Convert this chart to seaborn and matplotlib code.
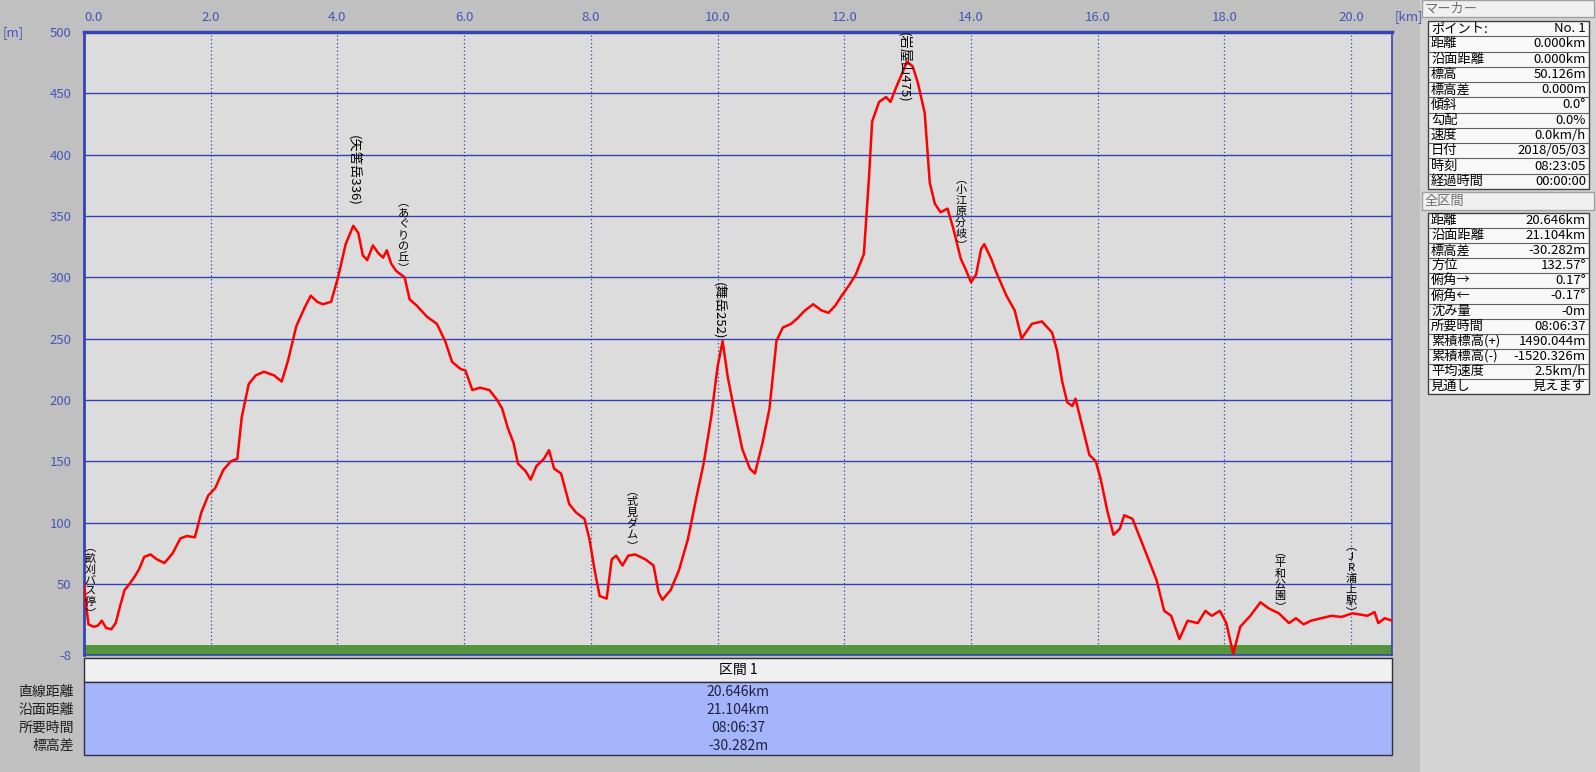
import matplotlib
matplotlib.use('Agg')
import matplotlib.pyplot as plt
import seaborn as sns
import pandas as pd
from matplotlib.patches import Rectangle

# ---------------- data ----------------
dist_km = [0.00, 0.04, 0.07, 0.15, 0.22, 0.28, 0.35, 0.43, 0.50, 0.56, 0.64, 0.72, 0.80, 0.87, 0.95,
           1.05, 1.15, 1.27, 1.40, 1.52, 1.62, 1.75, 1.85, 1.96, 2.07, 2.20, 2.32, 2.42, 2.49, 2.60,
           2.71, 2.84, 3.00, 3.12, 3.22, 3.35, 3.48, 3.58, 3.68, 3.77, 3.90, 4.01, 4.13, 4.25, 4.33,
           4.40, 4.47, 4.56, 4.64, 4.72, 4.78, 4.85, 4.93, 5.06, 5.14, 5.25, 5.41, 5.57, 5.70, 5.81,
           5.95, 6.02, 6.13, 6.25, 6.40, 6.52, 6.60, 6.69, 6.78, 6.85, 6.97, 7.05, 7.14, 7.26, 7.34,
           7.42, 7.53, 7.66, 7.77, 7.90, 7.98, 8.06, 8.14, 8.25, 8.33, 8.40, 8.50, 8.59, 8.70, 8.86,
           8.99, 9.07, 9.13, 9.26, 9.39, 9.53, 9.66, 9.78, 9.90, 10.00, 10.08, 10.16, 10.27, 10.39,
           10.51, 10.59, 10.71, 10.82, 10.93, 11.03, 11.16, 11.27, 11.38, 11.51, 11.64, 11.75, 11.86,
           11.96, 12.07, 12.18, 12.31, 12.39, 12.44, 12.55, 12.66, 12.73, 12.82, 12.92, 12.99, 13.08,
           13.16, 13.27, 13.35, 13.43, 13.52, 13.63, 13.72, 13.84, 13.92, 14.00, 14.08, 14.16, 14.21,
           14.32, 14.40, 14.56, 14.69, 14.80, 14.96, 15.12, 15.28, 15.36, 15.44, 15.52, 15.60, 15.65,
           15.76, 15.87, 15.97, 16.05, 16.15, 16.25, 16.35, 16.42, 16.55, 16.68, 16.81, 16.93, 17.05,
           17.16, 17.29, 17.42, 17.58, 17.70, 17.80, 17.93, 18.03, 18.14, 18.25, 18.41, 18.57, 18.70,
           18.86, 19.02, 19.13, 19.25, 19.37, 19.53, 19.69, 19.85, 20.02, 20.14, 20.26, 20.37, 20.43,
           20.53, 20.646]
elev_m = [50, 30, 17, 15, 16, 20, 14, 13, 18, 30, 45, 50, 56, 62, 72,
          74, 70, 67, 75, 87, 89, 88, 108, 122, 128, 143, 150, 152, 186, 213,
          220, 223, 220, 215, 232, 260, 275, 285, 280, 278, 280, 300, 327, 342, 336,
          318, 314, 326, 320, 316, 322, 311, 305, 300, 282, 277, 268, 262, 248, 231,
          225, 224, 208, 210, 208, 200, 193, 177, 165, 148, 142, 135, 146, 152, 159,
          144, 140, 115, 108, 103, 86, 61, 40, 38, 70, 73, 65, 73, 74, 70,
          65, 43, 37, 45, 61, 86, 119, 148, 186, 227, 248, 219, 190, 160,
          144, 140, 165, 193, 248, 259, 262, 267, 273, 278, 273, 271, 277,
          285, 293, 302, 319, 381, 427, 443, 447, 443, 455, 467, 476, 472,
          459, 434, 377, 360, 353, 356, 340, 315, 306, 296, 302, 323, 327,
          315, 304, 285, 273, 250, 262, 264, 255, 240, 215, 198, 195, 201,
          178, 155, 150, 135, 110, 90, 95, 106, 103, 86, 69, 53, 28,
          24, 5, 20, 18, 28, 24, 28, 18, -7, 15, 24, 35, 30,
          26, 18, 22, 17, 20, 22, 24, 23, 26, 25, 24, 27, 18,
          22, 20]

x_ticks = [0, 2, 4, 6, 8, 10, 12, 14, 16, 18, 20]
x_tick_labels = ["0.0", "2.0", "4.0", "6.0", "8.0", "10.0", "12.0", "14.0", "16.0", "18.0", "20.0"]
y_ticks = [-8, 50, 100, 150, 200, 250, 300, 350, 400, 450, 500]
y_tick_labels = ["-8", "50", "100", "150", "200", "250", "300", "350", "400", "450", "500"]

wp_names = ["(畝刈バス停)", "(矢筈岳336)", "(あぐりの丘)", "(式見ダム)", "(舞岳252)",
            "(岩屋山475)", "(小江原分岐)", "(平和公園)", "(JR浦上駅)"]
wp_km = [0.1, 4.26, 5.04, 8.65, 10.02, 12.94, 13.84, 18.88, 20.0]
wp_top_m = [84, 416, 365, 130, 296, 500, 384, 80, 85]
wp_rotated = [False, True, False, False, True, True, False, False, False]

marker_keys = ["ポイント:", "距離", "沿面距離", "標高", "標高差", "傾斜", "勾配", "速度", "日付", "時刻", "経過時間"]
marker_vals = ["No. 1", "0.000km", "0.000km", "50.126m", "0.000m", "0.0°", "0.0%", "0.0km/h",
               "2018/05/03", "08:23:05", "00:00:00"]
total_keys = ["距離", "沿面距離", "標高差", "方位", "俯角→", "俯角←", "沈み量", "所要時間",
              "累積標高(+)", "累積標高(-)", "平均速度", "見通し"]
total_vals = ["20.646km", "21.104km", "-30.282m", "132.57°", "0.17°", "-0.17°", "-0m", "08:06:37",
              "1490.044m", "-1520.326m", "2.5km/h", "見えます"]

section_title = "区間 1"
section_keys = ["直線距離", "沿面距離", "所要時間", "標高差"]
section_vals = ["20.646km", "21.104km", "08:06:37", "-30.282m"]

# ---------------- style ----------------
sns.set_style("white")
FONT = ['Noto Sans CJK JP', 'DejaVu Sans']
plt.rcParams['font.family'] = FONT

W, H = 1596, 772
fig = plt.figure(figsize=(W / 100, H / 100), dpi=100, facecolor='#c0c0c0')


def fx(x):
    return x / W


def fy(y):
    return 1 - y / H


def frect(x0, y0, x1, y1, **kw):
    fig.patches.append(Rectangle((fx(x0), fy(y1)), fx(x1) - fx(x0), fy(y0) - fy(y1),
                                 transform=fig.transFigure, figure=fig, **kw))


BLUE = '#3444b0'
LBLUE = '#4656b8'

# main plot
L, T, R, B = 84, 32, 1392, 655
ax = fig.add_axes([fx(L), fy(B), fx(R) - fx(L), fy(T) - fy(B)])
ax.set_facecolor('#dcdcdc')
ax.axhspan(-8, 0, color='#55963c', zorder=1, lw=0)

df = pd.DataFrame({'km': dist_km, 'm': elev_m})
sns.lineplot(data=df, x='km', y='m', ax=ax, color='#ff0000', lw=1.8,
             estimator=None, sort=False, zorder=5)

ax.set_xlim(0, 20.646)
ax.set_ylim(-8, 500)
ax.set_xticks(x_ticks)
ax.set_xticklabels(x_tick_labels)
ax.set_yticks(y_ticks)
ax.set_yticklabels(y_tick_labels)
ax.xaxis.tick_top()
ax.tick_params(axis='both', length=0, labelcolor=LBLUE, labelsize=9.5)
ax.tick_params(axis='x', pad=6)
ax.tick_params(axis='y', pad=9)
ax.get_xticklabels()[0].set_horizontalalignment('left')
ax.set_xlabel('')
ax.set_ylabel('')
ax.yaxis.grid(True, color=BLUE, lw=1.0, ls='-', zorder=2)
ax.xaxis.grid(True, color=BLUE, lw=0.9, ls=(0, (1, 2)), zorder=2)
ax.set_axisbelow(True)
for s in ax.spines.values():
    s.set_color(BLUE)
    s.set_linewidth(1.2)
ax.spines['top'].set_linewidth(2.5)
ax.spines['left'].set_linewidth(2.0)

# waypoint labels
for name, km, top, rot in zip(wp_names, wp_km, wp_top_m, wp_rotated):
    if rot:
        ax.text(km, top, name, rotation=-90, ha='center', va='top', fontsize=9.5,
                color='black', zorder=6, rotation_mode='default')
    else:
        vert = name.replace("(", "︵").replace(")", "︶")
        ax.text(km, top, "\n".join(vert), ha='center', va='top', fontsize=8,
                linespacing=1.12, color='black', zorder=6)

fig.text(fx(3), fy(33), "[m]", color=LBLUE, fontsize=9.5, ha='left', va='center')
fig.text(fx(1395), fy(17), "[km]", color=LBLUE, fontsize=9.5, ha='left', va='center')

# bottom section table
frect(84, 658, 1392, 682, facecolor='#f0f0f0', edgecolor='#303040', lw=1.0)
frect(84, 682, 1392, 755, facecolor='#a5b5fb', edgecolor='#303040', lw=1.0)
fig.text(fx(738), fy(670), section_title, ha='center', va='center', fontsize=10, color='black')
row_y = [692, 710, 728, 746]
for k, v, yy in zip(section_keys, section_vals, row_y):
    fig.text(fx(74), fy(yy), k, ha='right', va='center', fontsize=10, color='#202020')
    fig.text(fx(738), fy(yy), v, ha='center', va='center', fontsize=10, color='#202040')

# right panel
frect(1420, 0, 1596, 772, facecolor='#d4d4d4', edgecolor='none')


def panel(title, y_head0, y_head1, y_tab0, y_tab1, keys, vals):
    frect(1422, y_head0, 1594, y_head1, facecolor='#f0f0f0', edgecolor='#a0a0a0', lw=1.0)
    fig.text(fx(1425), fy((y_head0 + y_head1) / 2), title, ha='left', va='center',
             fontsize=9.5, color='#707070')
    frect(1428, y_tab0, 1589, y_tab1, facecolor='#f8f8f8', edgecolor='#404040', lw=1.0)
    n = len(keys)
    h = (y_tab1 - y_tab0) / n
    for i, (k, v) in enumerate(zip(keys, vals)):
        yc = y_tab0 + h * (i + 0.5)
        if i > 0:
            fig.add_artist(plt.Line2D([fx(1428), fx(1589)], [fy(y_tab0 + h * i)] * 2,
                                      color='#606060', lw=0.8, transform=fig.transFigure))
        fig.text(fx(1431), fy(yc), k, ha='left', va='center', fontsize=9.5, color='black')
        fig.text(fx(1586), fy(yc), v, ha='right', va='center', fontsize=9.5, color='black')


panel("マーカー", 0, 17, 21, 189, marker_keys, marker_vals)
panel("全区間", 192, 210, 213, 394, total_keys, total_vals)

fig.savefig('out.png', dpi=100, facecolor=fig.get_facecolor())
